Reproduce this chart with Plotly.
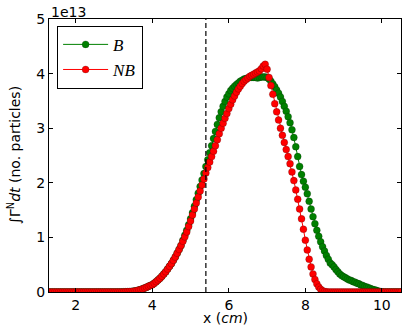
import numpy as np
import plotly.graph_objects as go

# sampling grid along x (cm)
X_START = 1.30
X_STEP = 0.05
N_POINTS = 185

# integrated flux in units of 1e13 particles, one value per grid point
B_VALUES = [
    0, 0, 0, 0, 0, 0, 0, 0, 0, 0, 0, 0, 0, 0, 0, 0, 0, 0, 0, 0,
    0, 0, 0, 0, 0, 0, 0, 0, 0, 0, 0, 0, 0, 0, 0, 0, 0, 0, 0,
    0.002, 0.003, 0.005, 0.007, 0.010, 0.014, 0.019, 0.026, 0.035, 0.046,
    0.058, 0.072, 0.088, 0.105, 0.12, 0.135, 0.16, 0.19, 0.22, 0.25,
    0.29, 0.33, 0.37, 0.42, 0.47, 0.52, 0.58, 0.64, 0.71, 0.78, 0.85,
    0.95, 1.04, 1.13, 1.23, 1.34, 1.45, 1.57, 1.69, 1.81, 1.93,
    2.05, 2.17, 2.30, 2.42, 2.55, 2.68, 2.81, 2.94, 3.07, 3.19,
    3.30, 3.40, 3.49, 3.57, 3.63, 3.69, 3.73, 3.77, 3.80, 3.83,
    3.86, 3.88, 3.90, 3.91, 3.92, 3.93, 3.93, 3.93, 3.93, 3.92,
    3.93, 3.94, 3.94, 3.94, 3.93, 3.90, 3.86, 3.81, 3.76, 3.70,
    3.64, 3.57, 3.49, 3.40, 3.31, 3.21, 3.10, 2.97, 2.83, 2.66,
    2.48, 2.30, 2.15, 2.03, 1.92, 1.80, 1.66, 1.52, 1.38, 1.25,
    1.13, 1.02, 0.92, 0.83, 0.75, 0.67, 0.60, 0.53, 0.50, 0.46,
    0.41, 0.37, 0.33, 0.30, 0.28, 0.26, 0.24, 0.22, 0.21, 0.19,
    0.18, 0.16, 0.15, 0.13, 0.12, 0.10, 0.09, 0.08, 0.065, 0.05,
    0.04, 0.03, 0.02, 0.01, 0.004,
    0, 0, 0, 0, 0, 0, 0, 0, 0, 0,
]

NB_VALUES = [
    0, 0, 0, 0, 0, 0, 0, 0, 0, 0, 0, 0, 0, 0, 0, 0, 0, 0, 0, 0,
    0, 0, 0, 0, 0, 0, 0, 0, 0, 0, 0, 0, 0, 0, 0, 0, 0, 0, 0,
    0.002, 0.003, 0.005, 0.007, 0.010, 0.014, 0.019, 0.026, 0.035, 0.046,
    0.058, 0.072, 0.088, 0.105, 0.12, 0.135, 0.16, 0.19, 0.22, 0.25,
    0.29, 0.33, 0.37, 0.42, 0.47, 0.52, 0.58, 0.64, 0.71, 0.78, 0.85,
    0.93, 1.01, 1.10, 1.20, 1.30, 1.41, 1.52, 1.63, 1.74, 1.85,
    1.96, 2.07, 2.18, 2.28, 2.38, 2.48, 2.58, 2.68, 2.79, 2.90,
    3.00, 3.09, 3.18, 3.27, 3.36, 3.44, 3.52, 3.59, 3.66, 3.72,
    3.77, 3.82, 3.86, 3.89, 3.92, 3.95, 3.97, 3.99, 4.01, 4.03,
    4.05, 4.09, 4.14, 4.17, 4.08, 3.93, 3.78, 3.62, 3.45, 3.30,
    3.15, 3.00, 2.87, 2.74, 2.61, 2.48, 2.35, 2.20, 2.04, 1.87,
    1.70, 1.52, 1.34, 1.15, 0.95, 0.77, 0.60, 0.46, 0.33, 0.23,
    0.15, 0.09, 0.05, 0.025, 0.01, 0.003,
    0, 0, 0, 0, 0, 0, 0, 0, 0, 0, 0, 0, 0, 0, 0, 0, 0, 0, 0, 0,
    0, 0, 0, 0, 0, 0, 0, 0, 0, 0, 0, 0, 0, 0, 0, 0, 0, 0, 0,
]

DASH_X = 5.4
X_RANGE = [1.3, 10.5]
Y_RANGE = [0, 5]
X_TICKS = [2, 4, 6, 8, 10]
Y_TICKS = [0, 1, 2, 3, 4, 5]

x = np.round(X_START + X_STEP * np.arange(N_POINTS), 3)

fig = go.Figure()
for name, vals, color in [("B", B_VALUES, "#008000"), ("NB", NB_VALUES, "#ff0000")]:
    fig.add_trace(go.Scatter(
        x=x, y=vals, mode="lines+markers", name=name,
        line=dict(color=color, width=1),
        marker=dict(color=color, size=7, line=dict(color="rgba(0,0,0,0.4)", width=0.5)),
    ))

fig.add_shape(type="line", x0=DASH_X, x1=DASH_X, y0=0, y1=1, xref="x", yref="paper",
              line=dict(color="black", width=1.2, dash="5px,3px"))

axis_common = dict(showgrid=False, zeroline=False, showline=True, mirror="allticks",
                   linecolor="black", linewidth=1, ticks="inside", ticklen=4,
                   tickcolor="black", automargin=False,
                   tickfont=dict(family="DejaVu Sans", size=14, color="black"))

fig.update_xaxes(range=X_RANGE, tickvals=X_TICKS, **axis_common)
fig.update_yaxes(range=Y_RANGE, tickvals=Y_TICKS, **axis_common)

label_font = dict(family="DejaVu Sans", size=14, color="black")
fig.add_annotation(text="x (<i>cm</i>)", xref="paper", yref="paper", x=0.5, y=-0.095,
                   xanchor="center", yanchor="middle", showarrow=False, font=label_font)
fig.add_annotation(text="∫Γ<sup>N</sup><i>dt</i> (no. particles)", xref="paper", yref="paper",
                   x=-0.1, y=0.5, xanchor="center", yanchor="middle", textangle=-90,
                   showarrow=False, font=label_font)
fig.add_annotation(text="1e13", xref="paper", yref="paper", x=0, y=1, xanchor="left",
                   yanchor="bottom", yshift=-3, showarrow=False, font=label_font)

fig.update_layout(
    width=415, height=326,
    margin=dict(l=49, r=14, t=19, b=34),
    plot_bgcolor="white", paper_bgcolor="white",
    showlegend=True,
    legend=dict(x=0.023, y=0.975, xanchor="left", yanchor="top",
                bordercolor="black", borderwidth=1, bgcolor="white",
                font=dict(family="Liberation Serif", size=17, color="black", style="italic"),
                itemwidth=45, tracegroupgap=2),
)

# page body has a default 8px margin; drop it so the figure sits at the corner
fig.write_html("out.html", config={"displayModeBar": False},
               post_script="document.body.style.margin='0';")
